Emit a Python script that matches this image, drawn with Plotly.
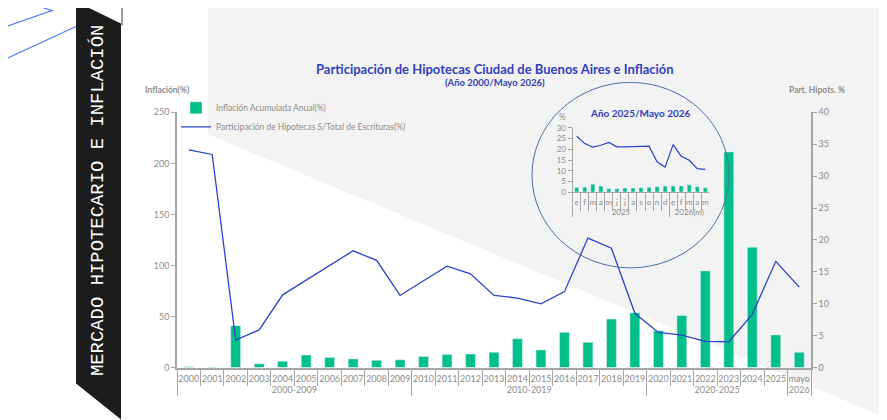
import plotly.graph_objects as go

# ---- datos gráfico principal ----
anios = ["2000", "2001", "2002", "2003", "2004", "2005", "2006", "2007", "2008", "2009",
         "2010", "2011", "2012", "2013", "2014", "2015", "2016", "2017", "2018", "2019",
         "2020", "2021", "2022", "2023", "2024", "2025", "mayo"]
periodos = (["2000-2009"] * 10 + ["2010-2019"] * 10 + ["2020-2025"] * 6 + ["2026"])
inflacion = [0.8, -1.5, 41.0, 3.7, 6.1, 12.3, 9.8, 8.5, 7.2, 7.7,
             10.9, 12.7, 13.3, 15.0, 28.3, 17.3, 34.5, 24.8, 47.5, 53.7,
             36.1, 51.0, 94.7, 211.2, 117.8, 32.0, 15.0]
participacion = [34.1, 33.4, 4.3, 5.9, 11.4, 13.7, 15.9, 18.3, 16.8, 11.3,
                 13.6, 15.9, 14.7, 11.3, 10.9, 10.0, 11.9, 20.3, 18.7, 8.5,
                 5.5, 5.1, 4.1, 4.05, 8.35, 16.65, 12.6]

# ---- datos recuadro mensual ----
meses = ["e", "f", "m", "a", "m", "j", "j", "a", "s", "o", "n", "d",
         "e", "f", "m", "a", "m"]
grupos_mes = ["2025"] * 12 + ["2026(m)"] * 5
inflacion_mes = [2.2, 2.3, 3.7, 2.8, 1.6, 1.6, 1.9, 1.9, 2.0, 2.3, 2.5, 2.8,
                 2.9, 2.9, 3.4, 2.5, 2.0]
participacion_mes = [26.1, 22.7, 21.0, 21.9, 23.2, 21.2, 21.2, 21.2, 21.3, 21.5,
                     14.2, 11.7, 22.2, 16.8, 14.9, 11.0, 10.6]

VERDE = "#00bf8a"
AZUL = "#2a44c8"
GRIS = "#8c8c8c"
EJE = "#a6a6a6"
TITULO = "#2f3fbf"
FUENTE = "Lato"

W, H = 887, 420
# compensación del desplazamiento/escala vertical que aparece en la captura
OX = 8
SY, BY = 0.9766, 12.4


def px(x):
    return (x - OX) / W


def py(y):
    return 1 - ((y - BY) / SY) / H


# etiquetas repetidas (m, j, a) deben ser categorías distintas
vistos = {}
meses_unicos = []
for g, m in zip(grupos_mes, meses):
    k = (g, m)
    vistos[k] = vistos.get(k, 0) + 1
    meses_unicos.append(m + "\u200b" * (vistos[k] - 1))

fig = go.Figure()

fig.add_trace(go.Bar(
    x=[periodos, anios], y=inflacion, name="Inflación Acumulada Anual(%)",
    marker=dict(color=VERDE), width=0.42, yaxis="y",
))
fig.add_trace(go.Scatter(
    x=[periodos, anios], y=participacion, mode="lines",
    name="Participación de Hipotecas S/Total de Escrituras(%)",
    line=dict(color=AZUL, width=1.3), yaxis="y2",
))

# recuadro
fig.add_trace(go.Bar(
    x=[grupos_mes, meses_unicos], y=inflacion_mes, marker=dict(color=VERDE),
    width=0.5, xaxis="x2", yaxis="y3", showlegend=False,
))
fig.add_trace(go.Scatter(
    x=[grupos_mes, meses_unicos], y=participacion_mes, mode="lines",
    line=dict(color=AZUL, width=1.2), xaxis="x2", yaxis="y3", showlegend=False,
))

tick_font = dict(family=FUENTE, size=9, color=GRIS)
tick_font_ins = dict(family=FUENTE, size=8, color=GRIS)

fig.update_layout(
    width=W, height=H,
    margin=dict(l=0, r=0, t=0, b=0),
    paper_bgcolor="white", plot_bgcolor="rgba(0,0,0,0)",
    font=dict(family=FUENTE, color=GRIS),
    xaxis=dict(
        domain=[px(177), px(811)], anchor="y", type="multicategory",
        showline=True, linecolor=EJE, linewidth=1.5,
        ticks="outside", tickson="boundaries", ticklen=17, tickcolor=EJE,
        showdividers=True, dividercolor=EJE, dividerwidth=1.2,
        tickfont=tick_font, tickangle=0, showgrid=False, ticklabelstandoff=2,
    ),
    yaxis=dict(
        domain=[py(367), py(111)], range=[0, 250], dtick=50,
        showline=True, linecolor=EJE, linewidth=1.5,
        ticks="outside", ticklen=4, tickcolor=EJE,
        tickfont=tick_font, showgrid=False, zeroline=False,
    ),
    yaxis2=dict(
        overlaying="y", side="right", range=[0, 40], dtick=5,
        showline=True, linecolor=EJE, linewidth=1.5,
        ticks="outside", ticklen=4, tickcolor=EJE,
        tickfont=tick_font, showgrid=False, zeroline=False,
    ),
    xaxis2=dict(
        domain=[px(572.7), px(709.3)], anchor="y3", type="multicategory",
        tickmode="linear", dtick=1,
        showline=True, linecolor=EJE, linewidth=1.2,
        ticks="outside", tickson="boundaries", ticklen=18, tickcolor=EJE,
        showdividers=True, dividercolor=EJE, dividerwidth=1.2,
        tickfont=tick_font_ins, tickangle=0, showgrid=False, ticklabelstandoff=2,
    ),
    yaxis3=dict(
        domain=[py(191), py(126.7)], anchor="x2", range=[0, 30], dtick=5,
        showline=True, linecolor=EJE, linewidth=1.2,
        ticks="outside", ticklen=4, tickcolor=EJE,
        tickfont=tick_font_ins, showgrid=False, zeroline=False,
    ),
    legend=dict(
        x=px(176), y=py(92), xanchor="left", yanchor="top",
        bgcolor="rgba(0,0,0,0)", font=dict(family=FUENTE, size=8.5, color=GRIS),
        itemwidth=30, tracegroupgap=0,
    ),
    showlegend=True,
)

# fondo: panel gris con diagonal, banda negra y trazos decorativos
fig.add_shape(type="path", xref="paper", yref="paper", layer="below",
              path=f"M {px(208)},{py(0)} L {px(900)},{py(0)} L {px(900)},{py(423)} L {px(208)},{py(133)} Z",
              fillcolor="#f3f3f3", line=dict(width=0))
fig.add_shape(type="line", xref="paper", yref="paper", layer="below",
              x0=px(195), x1=px(900), y0=py(1), y1=py(1),
              line=dict(color="#bdbdbd", width=2))
fig.add_shape(type="path", xref="paper", yref="paper",
              path=f"M {px(121)},{py(24)} L {px(123)},{py(24)} L {px(123)},{py(0)} L {px(121)},{py(0)} Z",
              fillcolor="#9a9a9a", line=dict(width=0))
fig.add_shape(type="path", xref="paper", yref="paper",
              path=f"M {px(76)},{py(0)} L {px(121)},{py(22)} L {px(121)},{py(419)} L {px(76)},{py(383)} Z",
              fillcolor="#1c1c1c", line=dict(width=0))
fig.add_shape(type="path", xref="paper", yref="paper",
              path=f"M {px(25)},{py(0)} L {px(52)},{py(9)} L {px(0)},{py(27)}",
              line=dict(color="#4a7cf0", width=1.2))
fig.add_shape(type="line", xref="paper", yref="paper",
              x0=px(0), y0=py(60), x1=px(76), y1=py(25),
              line=dict(color="#4a7cf0", width=1.2))
# círculo del recuadro
fig.add_shape(type="circle", xref="paper", yref="paper",
              x0=px(532), x1=px(729), y0=py(267), y1=py(81),
              line=dict(color="#4a72a8", width=1))

anot = [
    dict(text="MERCADO HIPOTECARIO E INFLACIÓN", x=px(98), y=py(200), textangle=-90,
         font=dict(family="Liberation Mono", size=18.9, color="white")),
    dict(text="<b>Participación de Hipotecas Ciudad de Buenos Aires e Inflación</b>",
         x=px(495), y=py(68), font=dict(family=FUENTE, size=13, color=TITULO)),
    dict(text="<b>(Año 2000/Mayo 2026)</b>", x=px(495), y=py(81),
         font=dict(family=FUENTE, size=9.5, color=TITULO)),
    dict(text="<b>Año 2025/Mayo 2026</b>", x=px(640), y=py(112),
         font=dict(family=FUENTE, size=10, color=TITULO)),
    dict(text="<b>Inflación(%)</b>", x=px(143), y=py(89), xanchor="left",
         font=dict(family=FUENTE, size=8.5, color=GRIS)),
    dict(text="<b>Part. Hipots. %</b>", x=px(787), y=py(89), xanchor="left",
         font=dict(family=FUENTE, size=8.5, color=GRIS)),
    dict(text="%", x=px(562), y=py(116),
         font=dict(family=FUENTE, size=8.5, color=GRIS)),
]
for a in anot:
    a.setdefault("xanchor", "center")
    fig.add_annotation(xref="paper", yref="paper", showarrow=False, yanchor="middle", **a)

fig.write_html("out.html")
